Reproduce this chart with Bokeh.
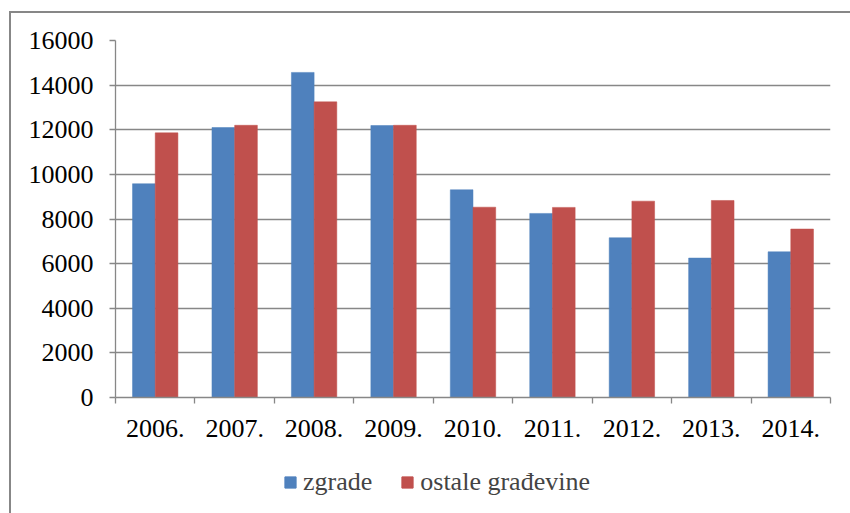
from bokeh.plotting import figure
from bokeh.layouts import column
from bokeh.models import FixedTicker, Legend, LegendItem, ColumnDataSource, Range1d
from bokeh.embed import file_html
from bokeh.resources import INLINE

years = ["2006.", "2007.", "2008.", "2009.", "2010.", "2011.", "2012.", "2013.", "2014."]
zgrade = [9580, 12100, 14570, 12190, 9310, 8250, 7160, 6250, 6530]
ostale = [11860, 12200, 13250, 12200, 8530, 8520, 8800, 8830, 7550]
y_ticks = [0, 2000, 4000, 6000, 8000, 10000, 12000, 14000, 16000]

BLUE = "#4F81BD"
RED = "#C0504D"
GRID = "#878787"
FONT = "Liberation Serif"
FS = "26px"

bw = 1 / 3.5
idx = list(range(len(years)))
src = ColumnDataSource(dict(
    xb=[i + 0.5 - bw / 2 for i in idx],
    xr=[i + 0.5 + bw / 2 for i in idx],
    zg=zgrade, os=ostale,
))

W = 839
H1 = 444
H2 = 56

p = figure(width=W, height=H1, output_backend="svg", toolbar_location=None,
           x_range=Range1d(0, len(years)), y_range=Range1d(0, 16000),
           min_border_left=104, min_border_right=20, min_border_top=27,
           min_border_bottom=60)

p.vbar(x="xb", top="zg", width=bw, source=src, fill_color=BLUE, line_color=BLUE, line_width=0.5)
p.vbar(x="xr", top="os", width=bw, source=src, fill_color=RED, line_color=RED, line_width=0.5)

p.outline_line_color = None
p.xgrid.grid_line_color = None
p.ygrid.grid_line_color = GRID
p.ygrid.grid_line_width = 1.3
p.ygrid.ticker = FixedTicker(ticks=y_ticks)

p.yaxis.ticker = FixedTicker(ticks=y_ticks)
p.yaxis.axis_line_color = GRID
p.yaxis.axis_line_width = 1.3
p.yaxis.major_tick_line_color = GRID
p.yaxis.major_tick_line_width = 1.3
p.yaxis.major_tick_out = 6
p.yaxis.major_tick_in = 0
p.yaxis.minor_tick_line_color = None
p.yaxis.major_label_standoff = 16
p.yaxis.major_label_text_font = FONT
p.yaxis.major_label_text_font_size = FS
p.yaxis.major_label_text_color = "black"

centers = [i + 0.5 for i in idx]
p.xaxis.ticker = FixedTicker(ticks=centers, minor_ticks=list(range(len(years) + 1)))
p.xaxis.major_label_overrides = {c: y for c, y in zip(centers, years)}
p.xaxis.axis_line_color = GRID
p.xaxis.axis_line_width = 1.3
p.xaxis.major_tick_out = 0
p.xaxis.major_tick_in = 0
p.xaxis.major_tick_line_color = None
p.xaxis.minor_tick_line_color = GRID
p.xaxis.minor_tick_line_width = 1.3
p.xaxis.minor_tick_out = 6
p.xaxis.minor_tick_in = 0
p.xaxis.major_label_standoff = 16
p.xaxis.major_label_text_font = FONT
p.xaxis.major_label_text_font_size = FS
p.xaxis.major_label_text_color = "black"

# legend strip below the chart; its ranges keep the proxy bars entirely out of view
q = figure(width=W, height=H2, output_backend="svg", toolbar_location=None,
           x_range=Range1d(100, 100 + len(years)), y_range=Range1d(20000, 20001),
           x_axis_type=None, y_axis_type=None,
           min_border_left=0, min_border_right=0, min_border_top=0, min_border_bottom=0)
q.outline_line_color = None
q.grid.visible = False
lb = q.vbar(x="xb", top="zg", width=bw, source=src, fill_color=BLUE, line_color=BLUE)
lr = q.vbar(x="xr", top="os", width=bw, source=src, fill_color=RED, line_color=RED)

legend = Legend(items=[LegendItem(label="zgrade", renderers=[lb]),
                       LegendItem(label="ostale građevine", renderers=[lr])],
                orientation="horizontal", location=(168, 16),
                glyph_width=14, glyph_height=14, label_standoff=6, spacing=28,
                padding=0, margin=0, border_line_color=None, background_fill_alpha=0,
                label_text_font=FONT, label_text_font_size=FS, label_height=20)
q.add_layout(legend, "center")

layout = column(p, q, spacing=0)
layout.styles = {"border-left": "2px solid #878787", "border-top": "2px solid #878787",
                 "margin-left": "9px", "margin-top": "11px"}

open("out.html", "w").write(file_html(layout, INLINE))
